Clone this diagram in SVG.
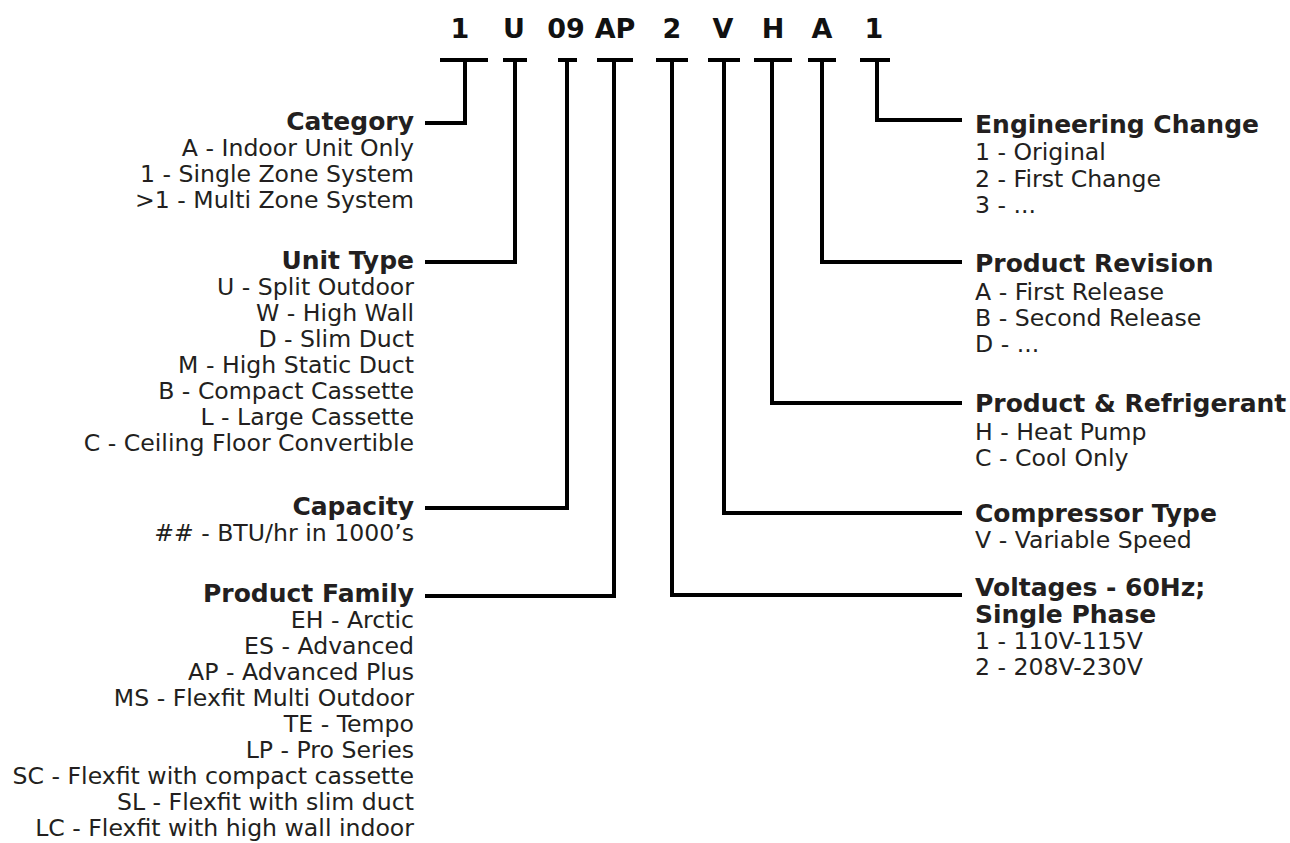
<svg xmlns="http://www.w3.org/2000/svg" width="1290" height="843" viewBox="0 0 1290 843">
<style>
.code{font-family:"DejaVu Sans",sans-serif;font-weight:bold;font-size:27px;fill:#111;text-anchor:middle}
.h{font-family:"DejaVu Sans",sans-serif;font-weight:bold;font-size:25px;fill:#231f20}
.t{font-family:"DejaVu Sans",sans-serif;font-size:23.6px;fill:#231f20}
.l{text-anchor:end}
.ln{fill:none;stroke:#000;stroke-width:4;stroke-linejoin:miter;stroke-linecap:butt}
</style>
<rect width="1290" height="843" fill="#fff"/>
<g id="code">
<text class="code" x="460" y="38">1</text>
<text class="code" x="514" y="38">U</text>
<text class="code" x="566" y="38">09</text>
<text class="code" x="615" y="38">AP</text>
<text class="code" x="672" y="38">2</text>
<text class="code" x="723" y="38">V</text>
<text class="code" x="773" y="38">H</text>
<text class="code" x="822" y="38">A</text>
<text class="code" x="874" y="38">1</text>
</g>
<g id="connectors">
<path class="ln" d="M440 60H488M465 60V123H425"/>
<path class="ln" d="M503 60H527M515 60V262H425"/>
<path class="ln" d="M558 60H577M567 60V508H425"/>
<path class="ln" d="M597 60H633M614 60V596H425"/>
<path class="ln" d="M656 60H688M672 60V595H962"/>
<path class="ln" d="M708 60H740M724 60V513H962"/>
<path class="ln" d="M754 60H792M772 60V403H962"/>
<path class="ln" d="M808 60H836M822 60V262H962"/>
<path class="ln" d="M860 60H890M877 60V120H962"/>
</g>
<g id="category">
<text class="h l" x="414" y="130">Category</text>
<text class="t l" x="414" y="156">A - Indoor Unit Only</text>
<text class="t l" x="414" y="182">1 - Single Zone System</text>
<text class="t l" x="414" y="208">&gt;1 - Multi Zone System</text>
</g>
<g id="unit-type">
<text class="h l" x="414" y="269">Unit Type</text>
<text class="t l" x="414" y="295">U - Split Outdoor</text>
<text class="t l" x="414" y="321">W - High Wall</text>
<text class="t l" x="414" y="347">D - Slim Duct</text>
<text class="t l" x="414" y="373">M - High Static Duct</text>
<text class="t l" x="414" y="399">B - Compact Cassette</text>
<text class="t l" x="414" y="425">L - Large Cassette</text>
<text class="t l" x="414" y="451">C - Ceiling Floor Convertible</text>
</g>
<g id="capacity">
<text class="h l" x="414" y="515">Capacity</text>
<text class="t l" x="414" y="541">## - BTU/hr in 1000’s</text>
</g>
<g id="product-family">
<text class="h l" x="414" y="602">Product Family</text>
<text class="t l" x="414" y="628">EH - Arctic</text>
<text class="t l" x="414" y="654">ES - Advanced</text>
<text class="t l" x="414" y="680">AP - Advanced Plus</text>
<text class="t l" x="414" y="706">MS - Flexfit Multi Outdoor</text>
<text class="t l" x="414" y="732">TE - Tempo</text>
<text class="t l" x="414" y="758">LP - Pro Series</text>
<text class="t l" x="414" y="784">SC - Flexfit with compact cassette</text>
<text class="t l" x="414" y="810">SL - Flexfit with slim duct</text>
<text class="t l" x="414" y="836">LC - Flexfit with high wall indoor</text>
</g>
<g id="engineering-change">
<text class="h" x="975" y="133">Engineering Change</text>
<text class="t" x="975" y="160">1 - Original</text>
<text class="t" x="975" y="187">2 - First Change</text>
<text class="t" x="975" y="213">3 - ...</text>
</g>
<g id="product-revision">
<text class="h" x="975" y="272">Product Revision</text>
<text class="t" x="975" y="300">A - First Release</text>
<text class="t" x="975" y="326">B - Second Release</text>
<text class="t" x="975" y="352">D - ...</text>
</g>
<g id="product-refrigerant">
<text class="h" x="975" y="412">Product &amp; Refrigerant</text>
<text class="t" x="975" y="440">H - Heat Pump</text>
<text class="t" x="975" y="466">C - Cool Only</text>
</g>
<g id="compressor-type">
<text class="h" x="975" y="522">Compressor Type</text>
<text class="t" x="975" y="548">V - Variable Speed</text>
</g>
<g id="voltages">
<text class="h" x="975" y="596">Voltages - 60Hz;</text>
<text class="h" x="975" y="623">Single Phase</text>
<text class="t" x="975" y="649">1 - 110V-115V</text>
<text class="t" x="975" y="675">2 - 208V-230V</text>
</g>
</svg>
